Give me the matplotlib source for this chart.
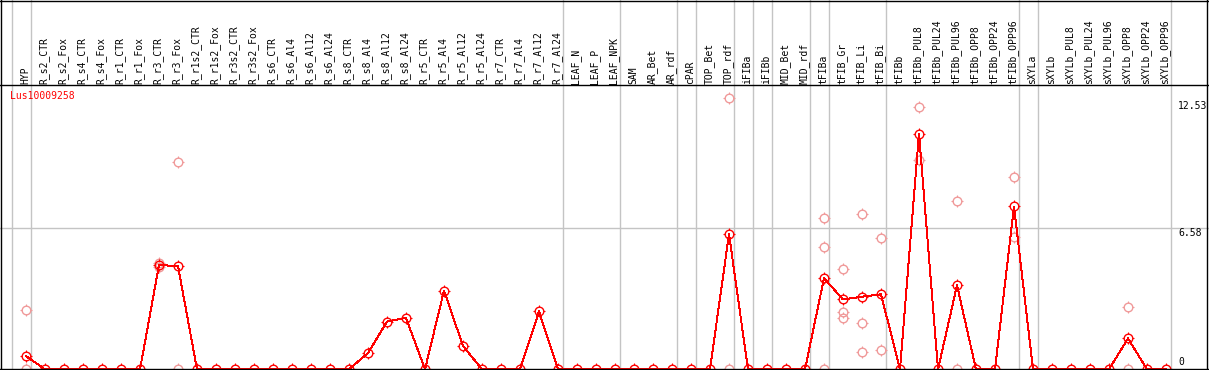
import matplotlib
matplotlib.use("Agg")
import numpy as np
import matplotlib.pyplot as plt
from matplotlib.path import Path
from matplotlib.lines import Line2D

plt.rcParams['font.family'] = ['DejaVu Sans Mono', 'DejaVu Sans']

# ---------------- data ----------------
samples = ["HYP", "R_s2_CTR", "R_s2_Fox", "R_s4_CTR", "R_s4_Fox", "R_r1_CTR", "R_r1_Fox",
           "R_r3_CTR", "R_r3_Fox", "R_r1s2_CTR", "R_r1s2_Fox", "R_r3s2_CTR", "R_r3s2_Fox",
           "R_s6_CTR", "R_s6_Al4", "R_s6_Al12", "R_s6_Al24", "R_s8_CTR", "R_s8_Al4",
           "R_s8_Al12", "R_s8_Al24", "R_r5_CTR", "R_r5_Al4", "R_r5_Al12", "R_r5_Al24",
           "R_r7_CTR", "R_r7_Al4", "R_r7_Al12", "R_r7_Al24", "LEAF_N", "LEAF_P", "LEAF_NPK",
           "SAM", "AR_Bet", "AR_rdf", "cPAR", "TOP_Bet", "TOP_rdf", "iFIBa", "iFIBb",
           "MID_Bet", "MID_rdf", "tFIBa", "tFIB_Gr", "tFIB_Li", "tFIB_Bi", "tFIBb",
           "tFIBb_PUL8", "tFIBb_PUL24", "tFIBb_PUL96", "tFIBb_OPP8", "tFIBb_OPP24",
           "tFIBb_OPP96", "sXYLa", "sXYLb", "sXYLb_PUL8", "sXYLb_PUL24", "sXYLb_PUL96",
           "sXYLb_OPP8", "sXYLb_OPP24", "sXYLb_OPP96"]

means = [0.62, 0, 0, 0, 0, 0, 0,
         4.87, 4.81, 0, 0, 0, 0,
         0, 0, 0, 0, 0, 0.76,
         2.23, 2.40, 0, 3.67, 1.09, 0,
         0, 0, 2.70, 0, 0, 0, 0,
         0, 0, 0, 0, 0, 6.31, 0, 0,
         0, 0, 4.25, 3.26, 3.39, 3.50, 0,
         11.0, 0, 3.92, 0, 0,
         7.60, 0, 0, 0, 0, 0,
         1.44, 0, 0]

rep_samples = ["HYP", "HYP", "R_r3_CTR", "R_r3_CTR", "R_r3_Fox", "R_r3_Fox",
               "TOP_rdf", "TOP_rdf", "tFIBa", "tFIBa", "tFIBa",
               "tFIB_Gr", "tFIB_Gr", "tFIB_Gr", "tFIB_Li", "tFIB_Li", "tFIB_Li",
               "tFIB_Bi", "tFIB_Bi", "tFIBb_PUL8", "tFIBb_PUL8",
               "tFIBb_PUL96", "tFIBb_PUL96", "tFIBb_OPP96", "tFIBb_OPP96",
               "sXYLb_OPP8", "sXYLb_OPP8"]
rep_values = [2.75, 0, 4.97, 4.77, 9.66, 0,
              12.65, 0, 7.05, 5.69, 0,
              4.70, 2.67, 2.40, 7.24, 2.14, 0.82,
              6.11, 0.92, 12.24, 9.77,
              7.86, 0, 8.98, 6.19,
              2.92, 0]

gene = "Lus10009258"
tick_values = [12.53, 6.58, 0]
tick_labels = ["12.53", "6.58", "0"]
separators_after = ["HYP", "R_r7_Al24", "LEAF_NPK", "AR_rdf", "cPAR", "TOP_rdf",
                    "iFIBa", "iFIBb", "MID_rdf", "tFIBa", "tFIB_Bi", "tFIBb_OPP96",
                    "sXYLa", "sXYLb_OPP96"]

# ---------------- layout ----------------
W, H = 1209, 370
fig = plt.figure(figsize=(W / 100, H / 100), dpi=100)
x0, dx = 26.0, 19.0          # pixel of first column, pixel step
xlim = ((0 - x0) / dx, (W - x0) / dx)
header_px = 85.0
zero_px = 369.3
px_per_unit = 21.43
ytop = (zero_px - header_px) / px_per_unit

ax_h = fig.add_axes([0, (H - header_px) / H, 1, header_px / H])
ax_h.set_xlim(*xlim)
ax_h.set_ylim(header_px, 0)
ax_h.axis('off')

ax = fig.add_axes([0, (H - zero_px) / H, 1, (zero_px - header_px) / H])
ax.set_xlim(*xlim)
ax.set_ylim(0, ytop)
ax.axis('off')

grey = '#c4c4c4'
idx = {s: i for i, s in enumerate(samples)}
sep_x = [-1 + 0.25] + [idx[s] + 0.25 for s in separators_after]
for sx in sep_x:
    ax_h.axvline(sx, color=grey, lw=1.0, zorder=0)
    ax.axvline(sx, color=grey, lw=1.0, zorder=0)
ax.axhline(6.58, color=grey, lw=1.0, zorder=0)

# labels
for i, s in enumerate(samples):
    ax_h.text(i - 1 / dx, 83.5, s, rotation=90, ha='center', va='bottom',
              fontsize=7, color='black')

# tick marks around the circle markers
t0, t1 = 1.0, 1.3
tick_path = Path([(t0, 0), (t1, 0), (-t0, 0), (-t1, 0), (0, t0), (0, t1), (0, -t0), (0, -t1)],
                 [Path.MOVETO, Path.LINETO] * 4)

pink = '#f09a9a'
rx = [idx[s] for s in rep_samples]
xs = list(range(len(samples)))
ax.plot(rx, rep_values, ls='none', marker='o', ms=6.2, mfc='none', mec=pink,
        mew=1.0, clip_on=False, zorder=2, antialiased=False)
ax.plot(rx, rep_values, ls='none', marker=tick_path, ms=8.0, mfc='none', mec=pink,
        mew=0.8, clip_on=False, zorder=2, antialiased=False)
ax.plot(xs, means, color='red', lw=0.7, clip_on=False, zorder=3, antialiased=False)
ax.plot(xs, means, ls='none', marker='o', ms=6.2, mfc='none', mec='red',
        mew=1.0, clip_on=False, zorder=3, antialiased=False)
ax.plot(xs, means, ls='none', marker=tick_path, ms=8.0, mfc='none', mec='red',
        mew=0.8, clip_on=False, zorder=3, antialiased=False)

# right labels
xl = (1178 - x0) / dx
for v, t in zip(tick_values, tick_labels):
    if v == 0:
        ax.text(xl, 0.1, t, ha='left', va='bottom', fontsize=7)
    else:
        ax.text(xl, v, t, ha='left', va='top', fontsize=7)

fig.text(10 / W, (H - 91) / H, gene, color='red', fontsize=7, ha='left', va='top')

# borders
def fl(xs, ys, **kw):
    fig.add_artist(Line2D([x / W for x in xs], [(H - y) / H for y in ys],
                          transform=fig.transFigure, color='black', lw=1.0, **kw))

fl([0, 1207.5], [0.5, 0.5])
fl([0, 1207.5], [header_px, header_px])
fl([0, 1207.5], [369.3, 369.3])
fl([0.8, 0.8], [0, 370])
fl([1207, 1207], [0, 370])

fig.savefig("out.png", dpi=100)
